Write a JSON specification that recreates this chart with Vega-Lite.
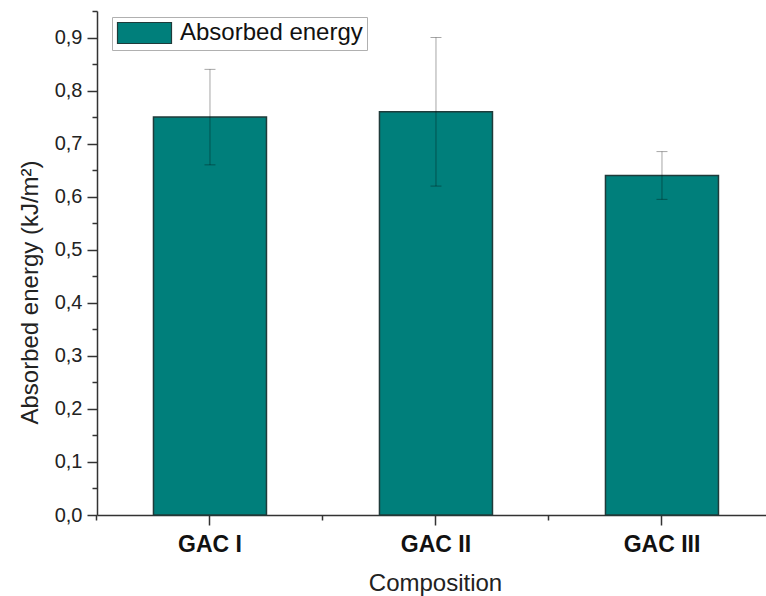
{
  "$schema": "https://vega.github.io/schema/vega-lite/v6.json",
  "autosize": {"type": "none"},
  "padding": {"left": 97, "top": 11, "right": 0, "bottom": 81},
  "width": 669,
  "height": 504,
  "data": {
    "values": [
      {"composition": "GAC I", "value": 0.75, "err": 0.09},
      {"composition": "GAC II", "value": 0.76, "err": 0.14},
      {"composition": "GAC III", "value": 0.64, "err": 0.045}
    ]
  },
  "layer": [
    {
      "mark": {"type": "bar", "stroke": "#1f3b3a", "strokeWidth": 1.5},
      "encoding": {
        "x": {
          "field": "composition",
          "type": "nominal",
          "sort": null,
          "scale": {"paddingInner": 0.5, "paddingOuter": 0.2301, "align": 0.543},
          "axis": {
            "orient": "bottom",
            "title": "Composition",
            "titleFontSize": 24,
            "titleFontWeight": "normal",
            "titleColor": "#222",
            "titleX": 338,
            "titleY": 75,
            "titleBaseline": "alphabetic",
            "labelAngle": 0,
            "labelFontSize": 23,
            "labelFontWeight": "bold",
            "labelColor": "#111",
            "labelBaseline": "alphabetic",
            "labelPadding": 26,
            "tickSize": 10,
            "tickWidth": 1.5,
            "tickColor": "#333",
            "domainColor": "#333",
            "domainWidth": 1.5
          }
        },
        "y": {
          "field": "value",
          "type": "quantitative",
          "scale": {"domain": [0, 0.95], "nice": false, "zero": true},
          "axis": {
            "orient": "left",
            "title": "Absorbed energy (kJ/m²)",
            "titleFontSize": 24,
            "titleFontWeight": "normal",
            "titleColor": "#222",
            "titleX": -60,
            "titleY": 281,
            "titleAngle": -90,
            "titleBaseline": "alphabetic",
            "values": [0, 0.1, 0.2, 0.3, 0.4, 0.5, 0.6, 0.7, 0.8, 0.9],
            "labelExpr": "replace(format(datum.value, '.1f'), '.', ',')",
            "labelFontSize": 20,
            "labelColor": "#222",
            "labelPadding": 5,
            "tickSize": 10,
            "tickWidth": 1.5,
            "tickColor": "#333",
            "domainColor": "#333",
            "domainWidth": 1.5,
            "grid": false
          }
        },
        "color": {
          "datum": "Absorbed energy",
          "type": "nominal",
          "scale": {"range": ["#007f7b"]},
          "legend": {
            "title": null,
            "orient": "none",
            "legendX": 15,
            "legendY": 6,
            "padding": 4,
            "strokeColor": "#b0b0b0",
            "fillColor": "white",
            "symbolType": "M-1,-1H4.143V1H-1Z",
            "symbolSize": 441,
            "symbolStrokeColor": "#1f3b3a",
            "symbolStrokeWidth": 1.2,
            "symbolFillColor": "#007f7b",
            "labelFontSize": 24,
            "labelColor": "#111",
            "labelOffset": 40,
            "labelLimit": 400
          }
        }
      }
    },
    {
      "mark": {
        "type": "errorbar",
        "ticks": {"size": 11, "thickness": 1, "color": "black", "opacity": 0.35},
        "rule": {"color": "black", "opacity": 0.35, "strokeWidth": 1}
      },
      "encoding": {
        "x": {
          "field": "composition",
          "type": "nominal",
          "sort": null,
          "axis": {
            "orient": "bottom",
            "title": null,
            "labels": false,
            "domain": false,
            "bandPosition": -0.5,
            "tickSize": 5,
            "tickWidth": 1.5,
            "tickColor": "#333"
          }
        },
        "y": {
          "field": "value",
          "type": "quantitative",
          "axis": {
            "orient": "left",
            "title": null,
            "labels": false,
            "domain": false,
            "grid": false,
            "values": [0.05, 0.15, 0.25, 0.35, 0.45, 0.55, 0.65, 0.75, 0.85, 0.95],
            "tickSize": 5,
            "tickWidth": 1.5,
            "tickColor": "#333"
          }
        },
        "yError": {"field": "err"}
      }
    }
  ],
  "resolve": {"axis": {"x": "independent", "y": "independent"}},
  "config": {
    "font": "Liberation Sans",
    "view": {"stroke": null}
  }
}
